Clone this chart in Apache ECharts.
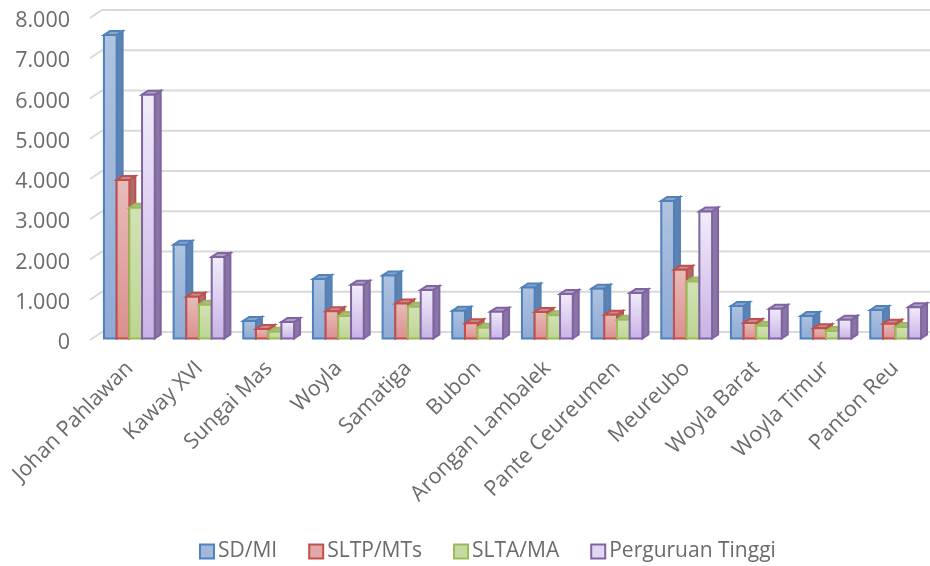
<!DOCTYPE html>
<html>
<head>
<meta charset="utf-8">
<style>html,body{margin:0;padding:0;background:#fff}#chart{width:930px;height:566px}</style>
<script src="https://cdn.jsdelivr.net/npm/echarts@6/dist/echarts.min.js"></script>
</head>
<body>
<div id="chart"></div>
<script>
var categories = ['Johan Pahlawan','Kaway XVI','Sungai Mas','Woyla','Samatiga','Bubon','Arongan Lambalek','Pante Ceureumen','Meureubo','Woyla Barat','Woyla Timur','Panton Reu'];
var sdMi = [7550,2340,450,1490,1580,700,1280,1250,3430,820,570,720];
var sltpMts = [3950,1050,250,690,880,390,670,600,1720,400,270,380];
var sltaMa = [3260,850,180,570,800,280,590,480,1430,330,200,300];
var perguruanTinggi = [6070,2040,420,1350,1220,680,1120,1140,3170,750,480,790];
var yTicks = [0,1000,2000,3000,4000,5000,6000,7000,8000];

var barW = 12.7, depthX = 6, depthY = 4;
var wallX = 12, wallY = 8;

function bar3d(seriesIdx, c) {
  return function (params, api) {
    var p = api.coord([api.value(0), api.value(1)]);
    var b = api.coord([api.value(0), 0]);
    var x = p[0] + 4.5 + (seriesIdx - 2) * barW;
    var top = p[1] - 1, base = b[1] - 1.5;
    return {
      type: 'group',
      children: [
        {type: 'polygon', shape: {points: [[x + barW, top], [x + barW + depthX, top - depthY], [x + barW + depthX, base - depthY], [x + barW, base]]},
          style: {fill: c.side, stroke: c.line, lineWidth: 2}},
        {type: 'polygon', shape: {points: [[x, top], [x + depthX, top - depthY], [x + barW + depthX, top - depthY], [x + barW, top]]},
          style: {fill: c.top, stroke: c.line, lineWidth: 2}},
        {type: 'rect', shape: {x: x, y: top, width: barW, height: base - top},
          style: {fill: new echarts.graphic.LinearGradient(0, 0, 0, 1, [{offset: 0, color: c.light}, {offset: 1, color: c.dark}]), stroke: c.line, lineWidth: 2}}
      ]
    };
  };
}

function makeSeries(name, values, idx, c) {
  return {
    name: name,
    type: 'custom',
    renderItem: bar3d(idx, c),
    clip: false,
    z: 5,
    encode: {x: 0, y: 1},
    itemStyle: {color: c.legend, borderColor: c.line, borderWidth: 2},
    data: values.map(function (v, i) { return [i, v]; })
  };
}

// back wall lines + little diagonal ticks on the left
var wallSeries = {
  type: 'custom',
  silent: true,
  clip: false,
  z: 1,
  encode: {x: 0, y: 1},
  renderItem: function (params, api) {
    var p = api.coord([0, api.value(0)]);
    var left = 90, right = 930;
    var st = {stroke: '#d9d9d9', lineWidth: 2};
    return {
      type: 'group',
      children: [
        {type: 'line', shape: {x1: left, y1: p[1], x2: left + wallX, y2: p[1] - wallY}, style: st},
        {type: 'line', shape: {x1: left + wallX, y1: p[1] - wallY, x2: right, y2: p[1] - wallY}, style: st}
      ]
    };
  },
  data: yTicks.map(function (v) { return [v]; })
};

var hidden = {show: false};
var myChart = echarts.init(document.getElementById('chart'));
var option = {
  animation: false,
  textStyle: {fontFamily: '"Open Sans"'},
  // second grid only carries the axis labels, nudged off the bars like in the original
  grid: [
    {left: 90, width: 836, top: 18, height: 322},
    {left: 95, width: 836, top: 21, height: 322}
  ],
  legend: {
    top: 536,
    left: 194,
    itemWidth: 14,
    itemHeight: 14,
    itemGap: 31,
    icon: 'rect',
    textStyle: {fontSize: 21, color: '#6b6b6b', padding: [0, 0, 0, -1]},
    data: ['SD/MI','SLTP/MTs','SLTA/MA','Perguruan Tinggi']
  },
  xAxis: [
    {type: 'category', gridIndex: 0, data: categories, axisLine: hidden, axisTick: hidden, axisLabel: hidden},
    {
      type: 'category',
      gridIndex: 1,
      data: categories,
      axisLine: hidden,
      axisTick: hidden,
      axisLabel: {rotate: 45, interval: 0, fontSize: 21.5, color: '#6b6b6b', margin: 22}
    }
  ],
  yAxis: [
    {type: 'value', gridIndex: 0, min: 0, max: 8000, interval: 1000, axisLine: hidden, axisTick: hidden, splitLine: hidden, axisLabel: hidden},
    {
      type: 'value',
      gridIndex: 1,
      min: 0,
      max: 8000,
      interval: 1000,
      axisLine: hidden,
      axisTick: hidden,
      splitLine: hidden,
      axisLabel: {
        fontSize: 21.5,
        color: '#6b6b6b',
        margin: 25,
        formatter: function (v) { return v === 0 ? '0' : String(v / 1000) + '.000'; }
      }
    }
  ],
  series: [
    wallSeries,
    makeSeries('SD/MI', sdMi, 0, {line: '#4f81bd', side: '#6082ad', top: '#8ba4c6', light: '#b0c3e0', dark: '#8eaad6', legend: '#a3b9dc'}),
    makeSeries('SLTP/MTs', sltpMts, 1, {line: '#c0504d', side: '#a86f6d', top: '#c08f8d', light: '#e8bcba', dark: '#db8f8d', legend: '#e0a9a7'}),
    makeSeries('SLTA/MA', sltaMa, 2, {line: '#9bbb59', side: '#8ea565', top: '#aabd86', light: '#d3e2b6', dark: '#bcd592', legend: '#c6dba4'}),
    makeSeries('Perguruan Tinggi', perguruanTinggi, 3, {line: '#8064a2', side: '#8a76a5', top: '#aea2bf', light: '#f2edfa', dark: '#c8b2e6', legend: '#e2d7f2'})
  ]
};
myChart.setOption(option);
</script>
</body>
</html>
